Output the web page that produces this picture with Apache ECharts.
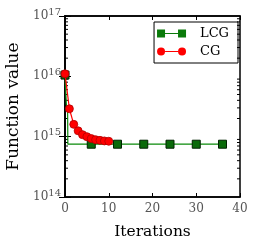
<!DOCTYPE html>
<html><head><meta charset="utf-8">
<script src="https://cdn.jsdelivr.net/npm/echarts@6/dist/echarts.min.js"></script>
<style>html,body{margin:0;padding:0;background:#fff}#c{width:256px;height:249px}</style>
</head><body><div id="c"></div>
<script>
var cgX = [0,1,2,3,4,5,6,7,8,9,10];
var cgY = [1.1e16,2.9e15,1.6e15,1.25e15,1.08e15,1.0e15,9.3e14,8.9e14,8.7e14,8.5e14,8.4e14];
var lcgX = [0,0.3,0.6,0.65,6,12,18,24,30,36];
var lcgY = [1.05e16,3.5e15,2.5e15,7.5e14,7.5e14,7.5e14,7.5e14,7.5e14,7.5e14,7.5e14];
var lcgMarked = [true,false,false,false,true,true,true,true,true,true];
var xTicks = [0,10,20,30,40];
var minorY = [];
[1e14,1e15,1e16].forEach(function(d){for(var k=2;k<=9;k++)minorY.push(k*d);});

var F = 'DejaVu Serif';
var chart = echarts.init(document.getElementById('c'));
var lcgData = lcgX.map(function(x,i){
  return {value:[x,lcgY[i]], symbol: lcgMarked[i]?'rect':'none'};
});
var cgData = cgX.map(function(x,i){return [x,cgY[i]];});
var sqIcon = 'path://M0,0h8v8h-8zM8,3.6h13v0.8h-13zM21,0h8v8h-8z';
var ciIcon = 'path://M0,4a4,4 0 1,0 8,0a4,4 0 1,0 -8,0zM8,3.6h13v0.8h-13zM21,4a4,4 0 1,0 8,0a4,4 0 1,0 -8,0z';
function minorRender(params, api){
  var v = api.value(0);
  var p = api.coord([0, v]);
  var cs = params.coordSys;
  var x0 = cs.x, x1 = cs.x + cs.width;
  return {type:'group', children:[
    {type:'line', shape:{x1:x0,y1:p[1],x2:x0+3,y2:p[1]}, style:{stroke:'#000',lineWidth:1}},
    {type:'line', shape:{x1:x1,y1:p[1],x2:x1-3,y2:p[1]}, style:{stroke:'#000',lineWidth:1}}
  ]};
}
chart.setOption({
  animation:false,
  grid:{left:65,right:16,top:16,bottom:52,show:true,borderColor:'#000',borderWidth:1.5,
    containLabel:false, outerBoundsMode:'none'},
  legend:{
    right:18, top:22, orient:'vertical', itemGap:5, itemWidth:29, itemHeight:8,
    borderColor:'#000', borderWidth:1, borderRadius:0, padding:[5,9,5,3],
    itemStyle:{borderWidth:0},
    textStyle:{fontFamily:F,fontSize:13,color:'#000',padding:[0,0,0,9]},
    data:[{name:'LCG',icon:sqIcon,itemStyle:{color:'#0a7a0a'}},{name:'CG',icon:ciIcon}]
  },
  xAxis:[{
    type:'value', min:0, max:40, interval:10,
    name:'Iterations', nameLocation:'middle', nameGap:27,
    nameTextStyle:{fontFamily:F,fontSize:15.5,color:'#000'},
    axisLine:{show:true,lineStyle:{color:'#000',width:1.5}},
    axisTick:{inside:true,length:4,lineStyle:{color:'#000'}},
    axisLabel:{fontFamily:F,fontSize:12,color:'#555',margin:6},
    splitLine:{show:false}
  },{
    type:'value', min:0, max:40, interval:10, position:'top',
    axisLine:{show:true,lineStyle:{color:'#000',width:1.5}},
    axisTick:{inside:true,length:4,lineStyle:{color:'#000'}},
    axisLabel:{show:false}, splitLine:{show:false}
  }],
  yAxis:[{
    type:'log', logBase:10, min:1e14, max:1e17,
    name:'Function value', nameLocation:'middle', nameGap:42, nameRotate:90,
    nameTextStyle:{fontFamily:F,fontSize:17,color:'#000'},
    axisLine:{show:true,lineStyle:{color:'#000',width:1.5}},
    axisTick:{inside:true,length:6,lineStyle:{color:'#000'}},
    axisLabel:{fontFamily:F,fontSize:12,color:'#555',margin:4,
      formatter:function(v){return '10{s|'+Math.round(Math.log10(v))+'}';},
      rich:{s:{fontFamily:F,fontSize:10,color:'#555',verticalAlign:'top',padding:[0,0,8,0]}}},
    splitLine:{show:false}
  },{
    type:'log', logBase:10, min:1e14, max:1e17, position:'right',
    axisLine:{show:true,lineStyle:{color:'#000',width:1.5}},
    axisTick:{inside:true,length:6,lineStyle:{color:'#000'}},
    axisLabel:{show:false}, splitLine:{show:false}
  }],
  series:[
    {type:'custom', name:'minor', xAxisIndex:0, yAxisIndex:0, renderItem:minorRender,
     data:minorY.map(function(v){return [v];}), encode:{x:-1,y:0}, silent:true, z:1},
    {type:'line', name:'LCG', data:lcgData, symbol:'rect', symbolSize:8,
     showAllSymbol:true,
     lineStyle:{color:'#0a8a0a',width:1.2},
     itemStyle:{color:'#0a6a0a',borderColor:'#002200',borderWidth:1}, z:3},
    {type:'line', name:'CG', data:cgData, symbol:'circle', symbolSize:8,
     showAllSymbol:true,
     lineStyle:{color:'#ff0000',width:1.2},
     itemStyle:{color:'#ff0000',borderColor:'#b00000',borderWidth:0.8}, z:4}
  ]
});
</script></body></html>
